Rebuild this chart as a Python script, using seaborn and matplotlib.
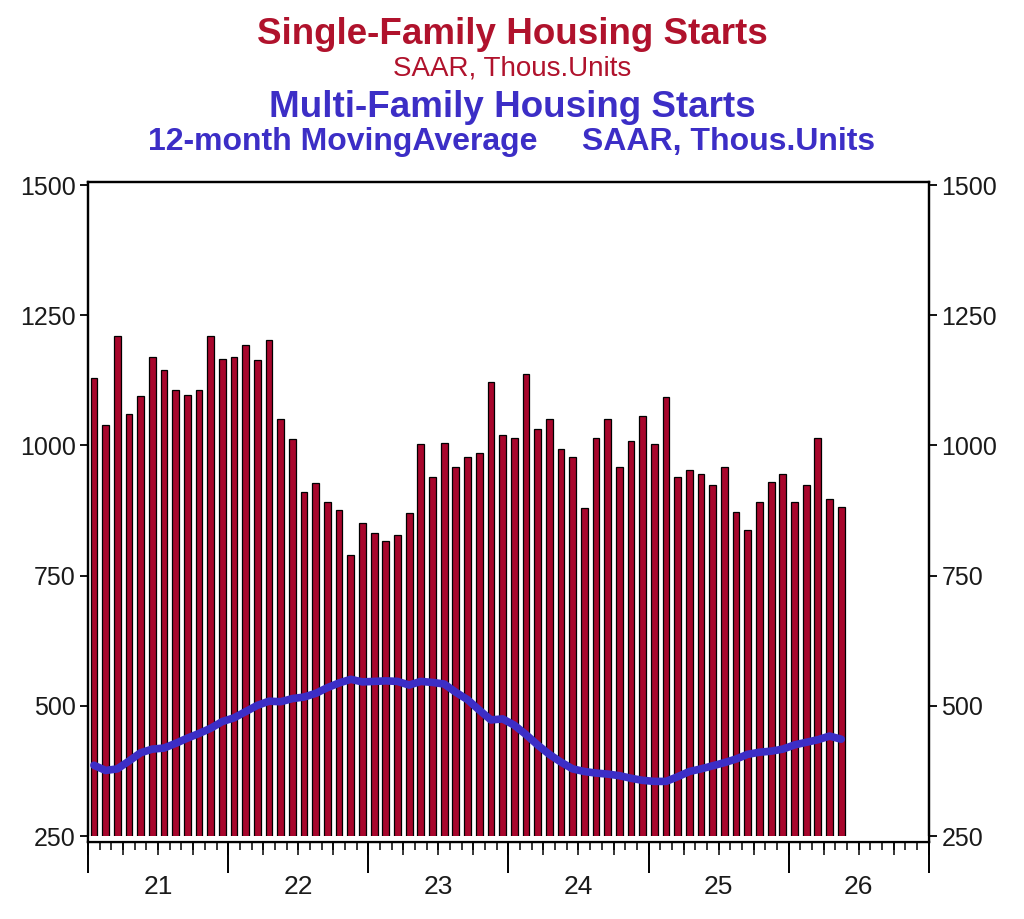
import pandas as pd
import matplotlib
matplotlib.use("Agg")
import matplotlib.pyplot as plt
import seaborn as sns

# Data, monthly, first bar = Jan '21
start_month = "2021-01"
single_family = [
    1129, 1040, 1211, 1060, 1095, 1170, 1145, 1106, 1097, 1106,
    1211, 1167, 1170, 1192, 1164, 1202, 1050, 1012, 910, 927,
    892, 876, 790, 851, 832, 816, 829, 870, 1002, 940,
    1005, 959, 977, 986, 1122, 1021, 1015, 1138, 1031, 1050,
    993, 977, 879, 1015, 1050, 958, 1009, 1056, 1002, 1094,
    940, 952, 946, 924, 959, 873, 838, 892, 930, 946,
    892, 924, 1015, 898, 882,
]
multi_family_ma = [
    386, 376, 379, 394, 410, 417, 419, 428, 438, 447,
    457, 470, 477, 489, 501, 509, 508, 514, 517, 524,
    535, 544, 551, 546, 547, 548, 547, 540, 547, 545,
    542, 526, 512, 492, 473, 475, 463, 445, 425, 407,
    392, 379, 374, 371, 369, 366, 361, 357, 355, 355,
    364, 374, 379, 385, 391, 398, 407, 411, 413, 417,
    425, 430, 435, 442, 436,
]
year_labels = ["21", "22", "23", "24", "25", "26"]
y_ticks = [250, 500, 750, 1000, 1250, 1500]

RED = "#A8062C"
TITLE_RED = "#B0122C"
BLUE = "#3C2EC6"

dates = pd.date_range(start_month, periods=len(single_family), freq="MS")
df = pd.DataFrame({
    "date": dates,
    "single": single_family,
    "multi": multi_family_ma,
})
df["m"] = (df["date"].dt.year - 2021) * 12 + df["date"].dt.month - 1

sns.set_style("white")
plt.rcParams["font.family"] = ["Liberation Sans", "DejaVu Sans"]
plt.rcParams["xtick.bottom"] = True
plt.rcParams["ytick.left"] = True

fig = plt.figure(figsize=(10.24, 9.19), dpi=100)
ax = fig.add_axes([0.086, 0.084, 0.821, 0.718])

sns.barplot(data=df, x="m", y="single", native_scale=True, width=0.58,
            color=RED, edgecolor="black", linewidth=0.9, saturation=1,
            ax=ax, zorder=2)
sns.lineplot(data=df, x="m", y="multi", color=BLUE, linewidth=5.5,
             ax=ax, zorder=4)

# white strip below the 250 baseline
ax.axhspan(230, 250, color="white", zorder=3, lw=0)

n_years = len(year_labels)
ax.set_xlim(-0.5, n_years * 12 - 0.5)
ax.set_ylim(239, 1506)
ax.set_xlabel("")
ax.set_ylabel("")

ax.set_xticks([-0.5 + 12 * k for k in range(n_years + 1)])
ax.set_xticks([-0.5 + k for k in range(n_years * 12 + 1)], minor=True)
ax.set_xticklabels([])
ax.tick_params(axis="x", which="major", bottom=True, length=22, width=1.4,
               color="black", direction="out", pad=2)
ax.tick_params(axis="x", which="minor", bottom=True, length=6, width=1.1,
               color="black", direction="out")

# quarterly ticks, a bit longer than the monthly ones
qax = ax.secondary_xaxis("bottom")
qax.set_xticks([-0.5 + 3 * k for k in range(n_years * 4 + 1)])
qax.set_xticklabels([])
qax.tick_params(bottom=True, length=9, width=1.1, color="black")
qax.spines["bottom"].set_visible(False)

# year labels centred in each year
lax = ax.secondary_xaxis("bottom")
lax.set_xticks([5.5 + 12 * k for k in range(n_years)])
lax.set_xticklabels(year_labels)
lax.tick_params(length=0, pad=24, labelsize=19, labelcolor="#1a1a1a")
lax.spines["bottom"].set_visible(False)

ax.set_yticks(y_ticks)
ax.set_yticklabels([str(v) for v in y_ticks])
ax.tick_params(axis="y", left=True, length=6, width=1.3, color="black",
               direction="out", labelsize=18, labelcolor="#1a1a1a", pad=3)

ax2 = ax.twinx()
ax2.set_ylim(ax.get_ylim())
ax2.set_yticks(y_ticks)
ax2.set_yticklabels([str(v) for v in y_ticks])
ax2.tick_params(axis="y", right=True, length=6, width=1.3, color="black",
                direction="out", labelsize=18, labelcolor="#1a1a1a", pad=3)

for a in (ax, ax2):
    for s in a.spines.values():
        s.set_visible(True)
        s.set_color("black")
        s.set_linewidth(1.6)
ax.grid(False)
ax2.grid(False)

# Titles
fig.text(0.5, 0.962, "Single-Family Housing Starts", ha="center", va="center",
         fontsize=26.5, fontweight="bold", color=TITLE_RED)
fig.text(0.5, 0.925, "SAAR, Thous.Units", ha="center", va="center",
         fontsize=20, color=TITLE_RED)
fig.text(0.5, 0.883, "Multi-Family Housing Starts", ha="center", va="center",
         fontsize=26.5, fontweight="bold", color=BLUE)
fig.text(0.5, 0.845, "12-month MovingAverage     SAAR, Thous.Units", ha="center",
         va="center", fontsize=23, fontweight="bold", color=BLUE)

fig.savefig("out.png", dpi=100, facecolor="white")
